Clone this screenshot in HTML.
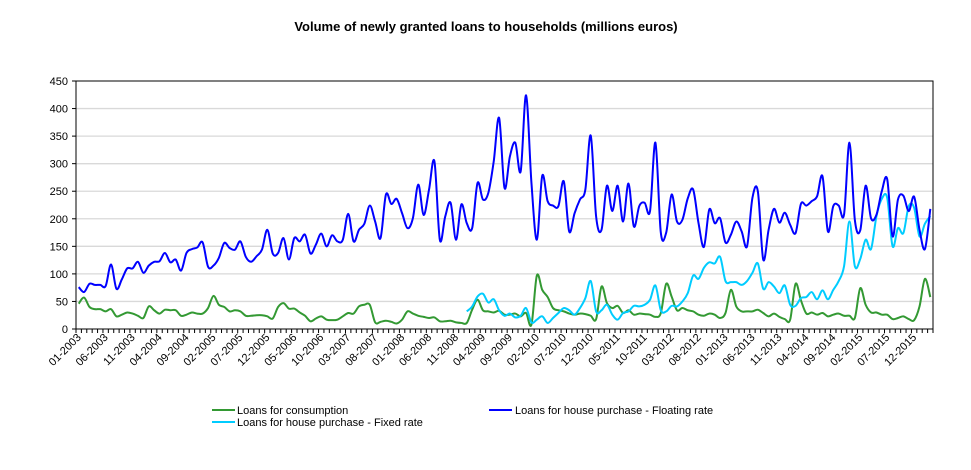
<!DOCTYPE html>
<html><head><meta charset="utf-8"><style>
body{margin:0;background:#fff;font-family:"Liberation Sans",Arial,sans-serif}
svg text{font-family:"Liberation Sans",Arial,sans-serif}
</style></head><body>
<svg id="chart" width="971" height="465" viewBox="0 0 971 465" xmlns="http://www.w3.org/2000/svg">
<rect x="0" y="0" width="971" height="465" fill="#fff"/>
<text x="486" y="31" text-anchor="middle" font-size="13" font-weight="bold">Volume of newly granted loans to households (millions euros)</text>
<g id="grid"></g><g id="yaxis"></g><g id="xaxis"></g><g id="series"></g>
<g>
<g><line x1="212" y1="410" x2="235" y2="410" stroke="#339933" stroke-width="2"/><text x="237" y="414" font-size="11">Loans for consumption</text></g>
<g><line x1="489" y1="410" x2="512" y2="410" stroke="#0000ff" stroke-width="2"/><text x="515" y="414" font-size="11">Loans for house purchase - Floating rate</text></g>
<g><line x1="212" y1="422" x2="235" y2="422" stroke="#00ccff" stroke-width="2"/><text x="237" y="426" font-size="11">Loans for house purchase - Fixed rate</text></g>
</g>
</svg>
<script>
const yTicks=[0,50,100,150,200,250,300,350,400,450];
const floating=[76,67,82,80,80,78,117,73,90,110,110,122,102,115,122,123,138,121,126,106,138,145,148,157,113,115,129,156,147,144,159,131,122,132,144,180,137,138,165,126,165,159,171,137,153,173,150,170,159,162,209,159,180,191,224,195,165,244,227,236,210,183,201,262,207,253,304,162,204,229,162,226,192,183,265,235,247,304,383,256,313,338,286,424,265,162,278,232,224,223,268,177,210,235,253,351,204,180,260,214,260,195,264,186,223,229,214,338,175,175,244,195,198,237,253,192,149,217,192,201,157,171,195,177,150,238,250,126,180,218,193,211,189,174,227,224,232,241,277,177,223,224,208,338,198,179,260,201,207,250,272,168,235,242,214,240,180,145,218];
const consumption=[46,57,40,36,36,32,36,23,26,30,28,24,20,41,34,28,35,34,34,24,26,30,28,28,38,60,44,40,32,34,32,24,24,25,25,23,19,40,47,37,37,30,24,14,19,23,17,16,17,23,29,28,41,44,44,12,13,15,13,10,17,32,28,24,22,20,21,14,14,15,12,11,11,35,53,34,32,30,33,26,26,28,23,29,8,97,71,58,38,34,32,28,26,28,27,24,18,77,47,38,42,29,34,26,28,27,26,22,29,82,59,34,38,34,32,26,24,28,26,20,29,71,41,32,32,32,35,29,23,28,22,18,17,82,52,28,30,26,29,23,26,28,24,24,20,74,44,30,30,26,26,18,20,23,18,16,41,91,58];
const fixedStart=72;
const fixed=[32,41,59,64,48,54,34,24,28,21,24,38,12,17,23,11,20,29,38,34,26,38,56,87,32,34,44,26,17,29,32,42,41,44,53,79,34,32,42,41,50,65,97,91,111,121,119,131,87,85,85,80,87,102,119,73,85,77,65,79,44,42,56,58,67,54,70,54,71,87,114,195,114,127,162,145,204,236,238,150,183,174,223,220,168,191,205];
const months=['01','02','03','04','05','06','07','08','09','10','11','12'];
const N=floating.length;
const L=76,R=933,T=81,B=329,vmax=450;
const step=(R-L)/N;
const xs=i=>L+(i+0.5)*step;
const ys=v=>B-(v/vmax)*(B-T);
const NS='http://www.w3.org/2000/svg';
function mk(tag,attrs,parent){const e=document.createElementNS(NS,tag);for(const k in attrs)e.setAttribute(k,attrs[k]);parent.appendChild(e);return e;}
const grid=document.getElementById('grid'),ya=document.getElementById('yaxis'),xa=document.getElementById('xaxis'),se=document.getElementById('series');
yTicks.forEach(t=>{
 if(t>0&&t<vmax){const g=mk('line',{x1:L,x2:R,y1:ys(t),y2:ys(t),stroke:'#d9d9d9','stroke-width':1.3},grid);
 
 }
 const tk=mk('line',{x1:L-4,x2:L,y1:ys(t),y2:ys(t),stroke:'#000'},ya);
 
 
 const tx=mk('text',{x:L-8,y:ys(t)+4,'text-anchor':'end','font-size':11},ya);
 
 
 tx.textContent=t;
});
const frame=mk('rect',{x:L,y:T,width:R-L,height:B-T,fill:'none',stroke:'#000','stroke-width':1},ya);


for(let i=0;i<=N;i++){const x=L+i*step;const tk=mk('line',{x1:x,x2:x,y1:B,y2:B+4,stroke:'#000'},xa);
 
 }
for(let i=0;i<N;i+=5){const m=months[i%12],y=2003+Math.floor(i/12);const x=xs(i)+3,yy=B+9;
 const tx=mk('text',{x:x,y:yy,'text-anchor':'end','font-size':11,transform:`rotate(-45 ${x} ${yy})`},xa);
 
 
 tx.textContent=m+'-'+y;}
function smooth(pts){let d=`M${pts[0][0]},${pts[0][1]}`;for(let i=0;i<pts.length-1;i++){const p0=pts[i-1]||pts[i],p1=pts[i],p2=pts[i+1],p3=pts[i+2]||p2;const t=1/6;
 d+=` C${p1[0]+(p2[0]-p0[0])*t},${p1[1]+(p2[1]-p0[1])*t} ${p2[0]-(p3[0]-p1[0])*t},${p2[1]-(p3[1]-p1[1])*t} ${p2[0]},${p2[1]}`;}return d;}
function line(arr,off,color,name){const pts=arr.map((v,i)=>[xs(i+off),ys(v)]);const p=mk('path',{d:smooth(pts),fill:'none',stroke:color,'stroke-width':2,'stroke-linejoin':'round'},se);
 
 }
line(consumption,0,'#339933','consumption-line');
line(fixed,fixedStart,'#00ccff','fixed-rate-line');
line(floating,0,'#0000ff','floating-rate-line');
</script>
</body></html>
